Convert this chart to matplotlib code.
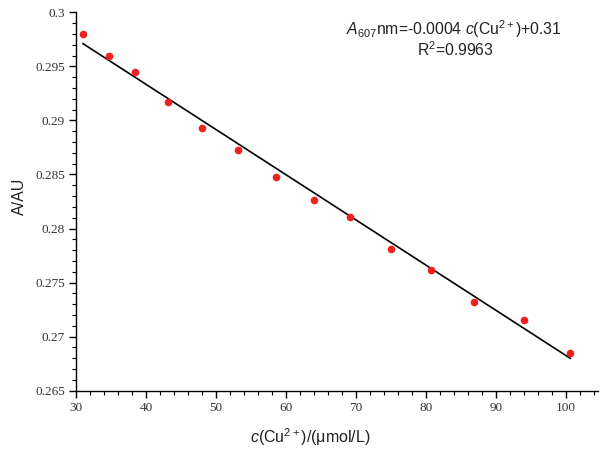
import numpy as np
import matplotlib
matplotlib.use("Agg")
import matplotlib.pyplot as plt
from matplotlib.ticker import MultipleLocator, FuncFormatter

# Data
conc = [31.0, 34.7, 38.4, 43.1, 48.0, 53.1, 58.6, 64.0, 69.1, 75.0, 80.7, 86.9, 94.0, 100.6]
absorb = [0.2980, 0.2960, 0.2945, 0.2917, 0.2893, 0.2873, 0.2848, 0.2826, 0.2811, 0.2781, 0.2762, 0.2732, 0.2715, 0.2685]
fit_x = [31.0, 100.6]
fit_y = [0.2971, 0.2680]
x_ticks = [30, 40, 50, 60, 70, 80, 90, 100]
y_ticks = [0.265, 0.27, 0.275, 0.28, 0.285, 0.29, 0.295, 0.3]

plt.rcParams['mathtext.fontset'] = 'custom'
plt.rcParams['mathtext.rm'] = 'Liberation Sans'
plt.rcParams['mathtext.it'] = 'Liberation Sans:italic'

fig = plt.figure(figsize=(6.01, 4.51), dpi=100)
ax = fig.add_axes([76/601, 1 - 390.7/451, (597.5-76)/601, (390.7-12.3)/451])

ax.plot(fit_x, fit_y, color='black', lw=1.2, zorder=2)
ax.plot(conc, absorb, 'o', color='#ee2020', ms=5.5, mec='none', zorder=3)

ax.set_xlim(30, 104.5)
ax.set_ylim(0.265, 0.3)
ax.set_xticks(x_ticks)
ax.set_yticks(y_ticks)
ax.xaxis.set_minor_locator(MultipleLocator(2))
ax.yaxis.set_minor_locator(MultipleLocator(0.001))
ax.yaxis.set_major_formatter(FuncFormatter(lambda v, p: ('%g' % round(v, 3))))

for s in ['top', 'right']:
    ax.spines[s].set_visible(False)
for s in ['left', 'bottom']:
    ax.spines[s].set_linewidth(1.0)

ax.tick_params(which='major', direction='out', length=5, width=1.0, pad=3,
               labelsize=9.5, labelcolor='#333333')
ax.tick_params(which='minor', direction='out', length=3, width=0.8)
for lab in ax.get_xticklabels() + ax.get_yticklabels():
    lab.set_fontfamily('Liberation Serif')

fig.text(19/601, 1 - 196/451, 'A/AU', rotation=90, ha='center', va='center',
         fontsize=11.5, family='Liberation Sans', color='#222222')
fig.text(310/601, 1 - 437/451, r'$\mathit{c}$(Cu$^{2+}$)/(μmol/L)', ha='center', va='center',
         fontsize=11.5, family='Liberation Sans', color='#222222')

fig.text(454/601, 1 - 29/451, r'$\mathit{A}_{607}$nm=-0.0004 $\mathit{c}$(Cu$^{2+}$)+0.31',
         ha='center', va='center', fontsize=11.3, family='Liberation Sans', color='#222222')
fig.text(455/601, 1 - 50/451, r'R$^{2}$=0.9963', ha='center', va='center',
         fontsize=11.3, family='Liberation Sans', color='#222222')

fig.savefig('out.png', dpi=100)
